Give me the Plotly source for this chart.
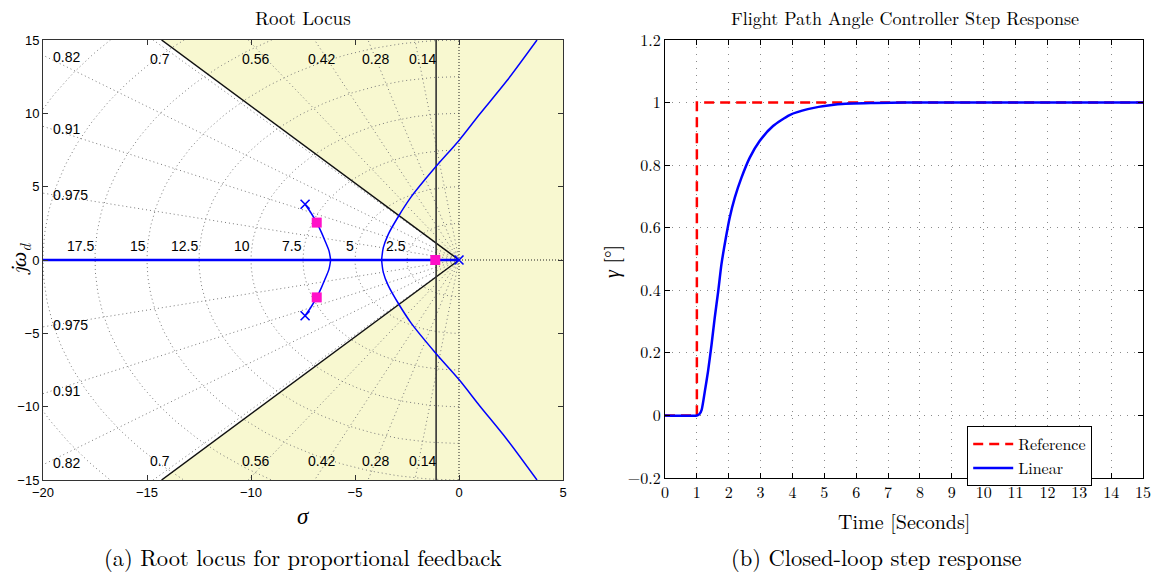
import numpy as np
import plotly.graph_objects as go

# ---------------- Root locus data ----------------
# open-loop poles (x markers)
ol_pole_re = [0.0, -7.40, -7.40]
ol_pole_im = [0.0, 3.80, -3.80]
# closed-loop poles at the chosen proportional gain (squares)
cl_pole_re = [-6.84, -6.84, -1.14]
cl_pole_im = [2.55, -2.55, 0.0]

# branch leaving the upper complex pole and meeting the real axis
branch_a_re = [-7.40, -7.12, -6.84, -6.62, -6.44, -6.25, -6.17]
branch_a_im = [3.80, 3.22, 2.55, 1.90, 1.30, 0.62, 0.0]
# branch breaking away from the real axis towards the +/-60 deg asymptotes
branch_b_re = [-3.72, -3.64, -3.40, -2.90, -2.30, -1.15, 0.0, 1.00, 2.29, 3.75]
branch_b_im = [0.0, 0.84, 1.75, 3.00, 4.30, 6.30, 8.15, 9.95, 12.20, 15.0]
# real-axis part of the locus
real_axis_re = [-20.0, -6.17, -3.72, 0.0]

# damping / natural frequency grid
zeta_grid = [0.14, 0.28, 0.42, 0.56, 0.7, 0.82, 0.91, 0.975]
wn_grid = [2.5, 5, 7.5, 10, 12.5, 15, 17.5, 20, 22.5]
wn_labels = [2.5, 5, 7.5, 10, 12.5, 15, 17.5]

# design constraints
zeta_min = 0.69
sigma_max = -1.1

rl_xticks = [-20, -15, -10, -5, 0, 5]
rl_yticks = [-15, -10, -5, 0, 5, 10, 15]

# ---------------- Step response data ----------------
t_ref = [0.0, 1.0, 1.0, 15.0]
y_ref = [0.0, 0.0, 1.0, 1.0]
t_lin = [0.0, 1.0, 1.08, 1.15, 1.25, 1.35, 1.46, 1.56, 1.67, 1.77, 1.91, 2.03,
         2.19, 2.40, 2.66, 2.97, 3.39, 3.91, 4.48, 5.42, 6.57, 7.5, 15.0]
y_lin = [0.0, 0.0, 0.004, 0.018, 0.077, 0.141, 0.226, 0.312, 0.397, 0.482, 0.568, 0.632,
         0.696, 0.760, 0.824, 0.877, 0.925, 0.960, 0.979, 0.995, 0.999, 1.0, 1.0]

sr_xticks = list(range(0, 16))
sr_yticks = [-0.2, 0.0, 0.2, 0.4, 0.6, 0.8, 1.0, 1.2]
sr_yticktext = ["\u22120.2", "0", "0.2", "0.4", "0.6", "0.8", "1", "1.2"]

SERIF = "Latin Modern Roman, CMU Serif, Liberation Serif, DejaVu Serif, serif"
SANS = "Liberation Sans Narrow, Liberation Sans, Arial, sans-serif"
YELLOW = "#f8f8d0"
BLUE = "#0000ff"
MAGENTA = "#ff10c8"
GRID = "#7a7a7a"

W, H = 1159, 574
X_MIN, X_MAX = -20, 5
Y_MIN, Y_MAX = -15, 15

fig = go.Figure()

# ---- s-plane grid: constant damping rays and constant wn semicircles
R = 40.0
for z in zeta_grid:
    ang = np.arccos(z)
    for s in (1, -1):
        fig.add_trace(go.Scatter(
            x=[0, -R * np.cos(ang)], y=[0, s * R * np.sin(ang)],
            mode="lines", line=dict(color=GRID, width=1, dash="1px,3px"),
            hoverinfo="skip", showlegend=False, xaxis="x", yaxis="y"))
th = np.linspace(np.pi / 2, 3 * np.pi / 2, 200)
for w in wn_grid:
    fig.add_trace(go.Scatter(
        x=w * np.cos(th), y=w * np.sin(th),
        mode="lines", line=dict(color=GRID, width=1, dash="1px,3px"),
        hoverinfo="skip", showlegend=False, xaxis="x", yaxis="y"))
# imaginary axis and positive real axis, dotted
fig.add_trace(go.Scatter(x=[0, 0], y=[Y_MIN, Y_MAX], mode="lines",
                         line=dict(color="#222", width=1, dash="1px,2px"),
                         hoverinfo="skip", showlegend=False, xaxis="x", yaxis="y"))
fig.add_trace(go.Scatter(x=[0, X_MAX], y=[0, 0], mode="lines",
                         line=dict(color="#222", width=1, dash="1px,2px"),
                         hoverinfo="skip", showlegend=False, xaxis="x", yaxis="y"))

# ---- constraint boundaries (black)
k = np.tan(np.arccos(zeta_min))
for s in (1, -1):
    fig.add_trace(go.Scatter(x=[0, -Y_MAX / k], y=[0, s * Y_MAX], mode="lines",
                             line=dict(color="#111", width=1.5),
                             hoverinfo="skip", showlegend=False, xaxis="x", yaxis="y"))
fig.add_trace(go.Scatter(x=[sigma_max, sigma_max], y=[Y_MIN, Y_MAX], mode="lines",
                         line=dict(color="#333", width=1.6),
                         hoverinfo="skip", showlegend=False, xaxis="x", yaxis="y"))

# ---- locus branches
fig.add_trace(go.Scatter(x=real_axis_re, y=[0] * len(real_axis_re), mode="lines",
                         line=dict(color=BLUE, width=2.4),
                         hoverinfo="skip", showlegend=False, xaxis="x", yaxis="y"))
for s in (1, -1):
    fig.add_trace(go.Scatter(x=branch_a_re, y=[s * v for v in branch_a_im], mode="lines",
                             line=dict(color=BLUE, width=1.5, shape="spline", smoothing=0.8),
                             hoverinfo="skip", showlegend=False, xaxis="x", yaxis="y"))
    fig.add_trace(go.Scatter(x=branch_b_re, y=[s * v for v in branch_b_im], mode="lines",
                             line=dict(color=BLUE, width=1.5, shape="spline", smoothing=0.8),
                             hoverinfo="skip", showlegend=False, xaxis="x", yaxis="y"))

fig.add_trace(go.Scatter(x=ol_pole_re, y=ol_pole_im, mode="markers",
                         marker=dict(symbol="x-thin", size=9, line=dict(color=BLUE, width=1.6)),
                         hoverinfo="skip", showlegend=False, xaxis="x", yaxis="y"))
fig.add_trace(go.Scatter(x=cl_pole_re, y=cl_pole_im, mode="markers",
                         marker=dict(symbol="square", size=10, color=MAGENTA),
                         hoverinfo="skip", showlegend=False, xaxis="x", yaxis="y"))

# ---- step response
fig.add_trace(go.Scatter(x=t_ref, y=y_ref, mode="lines", name="Reference",
                         line=dict(color="#ff0000", width=2.5, dash="10px,6px"),
                         xaxis="x2", yaxis="y2"))
fig.add_trace(go.Scatter(x=t_lin, y=y_lin, mode="lines", name="Linear",
                         line=dict(color=BLUE, width=2.5, shape="spline", smoothing=0.6),
                         xaxis="x2", yaxis="y2"))

# ---- shaded region outside the design wedge
shapes = [
    dict(type="rect", xref="x", yref="y", x0=X_MIN, x1=X_MAX, y0=Y_MIN, y1=Y_MAX,
         fillcolor=YELLOW, line=dict(width=0), layer="below"),
]
wx = -Y_MAX / k
wedge = (f"M {sigma_max} {-sigma_max * k} L {wx} {Y_MAX} L {X_MIN} {Y_MAX} "
         f"L {X_MIN} {Y_MIN} L {wx} {Y_MIN} L {sigma_max} {sigma_max * k} Z")
shapes.append(dict(type="path", xref="x", yref="y", path=wedge,
                   fillcolor="white", line=dict(width=0), layer="below"))

# ---- grid labels
annotations = []
lab_font = dict(family=SANS, size=14, color="black")
for z in zeta_grid:
    t = np.tan(np.arccos(z))
    if -X_MIN * t > Y_MAX:
        ex = -Y_MAX / t
        for s in (1, -1):
            annotations.append(dict(x=ex + 0.35, y=s * 13.7, xref="x", yref="y",
                                    text=f"{z:g}", showarrow=False, font=lab_font,
                                    xanchor="center", yanchor="middle"))
    else:
        ey = -X_MIN * t
        for s in (1, -1):
            annotations.append(dict(x=X_MIN + 0.4, y=s * (ey - 0.15), xref="x", yref="y",
                                    text=f"{z:g}", showarrow=False, font=lab_font,
                                    xanchor="left", yanchor="middle"))
for w in wn_labels:
    annotations.append(dict(x=-w, y=0.3, xref="x", yref="y", text=f"{w:g}",
                            showarrow=False, font=lab_font, xanchor="right",
                            yanchor="bottom", xshift=1))


def paper_text(px, py, text, size, angle=0):
    return dict(x=px / W, y=1 - py / H, xref="paper", yref="paper", text=text,
                showarrow=False, xanchor="center", yanchor="middle", textangle=angle,
                font=dict(family=SERIF, size=size, color="black"))


# titles, axis titles and captions
annotations += [
    paper_text(303, 18, "Root Locus", 19),
    paper_text(905, 18, "Flight Path Angle Controller Step Response", 18),
    paper_text(303, 557, "(a) Root locus for proportional feedback", 22.5),
    paper_text(876, 557, "(b) Closed-loop step response", 22.5),
    paper_text(303, 514, "<i>σ</i>", 23),
    paper_text(18, 259, "<i>jω</i><sub><i>d</i></sub>", 22, -90),
    paper_text(904, 520, "Time [Seconds]", 20),
    paper_text(610, 262, "<i>γ</i> [°]", 20, -90),
]

axis_common = dict(showgrid=False, zeroline=False, showline=True, mirror="ticks",
                   ticks="inside", ticklen=5, automargin=False)

fig.update_layout(
    width=W, height=H, autosize=False,
    margin=dict(l=0, r=0, t=0, b=0, pad=0, autoexpand=False),
    paper_bgcolor="white", plot_bgcolor="white",
    shapes=shapes, annotations=annotations,
    xaxis=dict(domain=[43 / W, 563 / W], range=[X_MIN, X_MAX], tickvals=rl_xticks,
               linecolor="#333", linewidth=1, tickcolor="#333",
               tickfont=dict(family=SANS, size=13, color="black"), **axis_common),
    yaxis=dict(domain=[94 / H, 534 / H], range=[Y_MIN, Y_MAX], tickvals=rl_yticks,
               linecolor="#333", linewidth=1, tickcolor="#333",
               tickfont=dict(family=SANS, size=13, color="black"), **axis_common),
    xaxis2=dict(domain=[665 / W, 1143 / W], range=[0, 15], anchor="y2",
                tickvals=sr_xticks, linecolor="black", linewidth=1.2, tickcolor="black",
                tickfont=dict(family=SERIF, size=16, color="black"),
                **{**axis_common, "showgrid": True}, gridcolor="#8a8a8a", griddash="1px,6px"),
    yaxis2=dict(domain=[96 / H, 534 / H], range=[-0.2, 1.2], anchor="x2",
                tickvals=sr_yticks, ticktext=sr_yticktext,
                linecolor="black", linewidth=1.2, tickcolor="black",
                tickfont=dict(family=SERIF, size=16, color="black"),
                **{**axis_common, "showgrid": True}, gridcolor="#8a8a8a", griddash="1px,6px"),
    legend=dict(x=967 / W, y=1 - 426 / H, xanchor="left", yanchor="top",
                bgcolor="white", bordercolor="black", borderwidth=1.2,
                font=dict(family=SERIF, size=16, color="black"),
                tracegroupgap=0, itemwidth=40),
    showlegend=True,
)

fig.write_html("out.html")
